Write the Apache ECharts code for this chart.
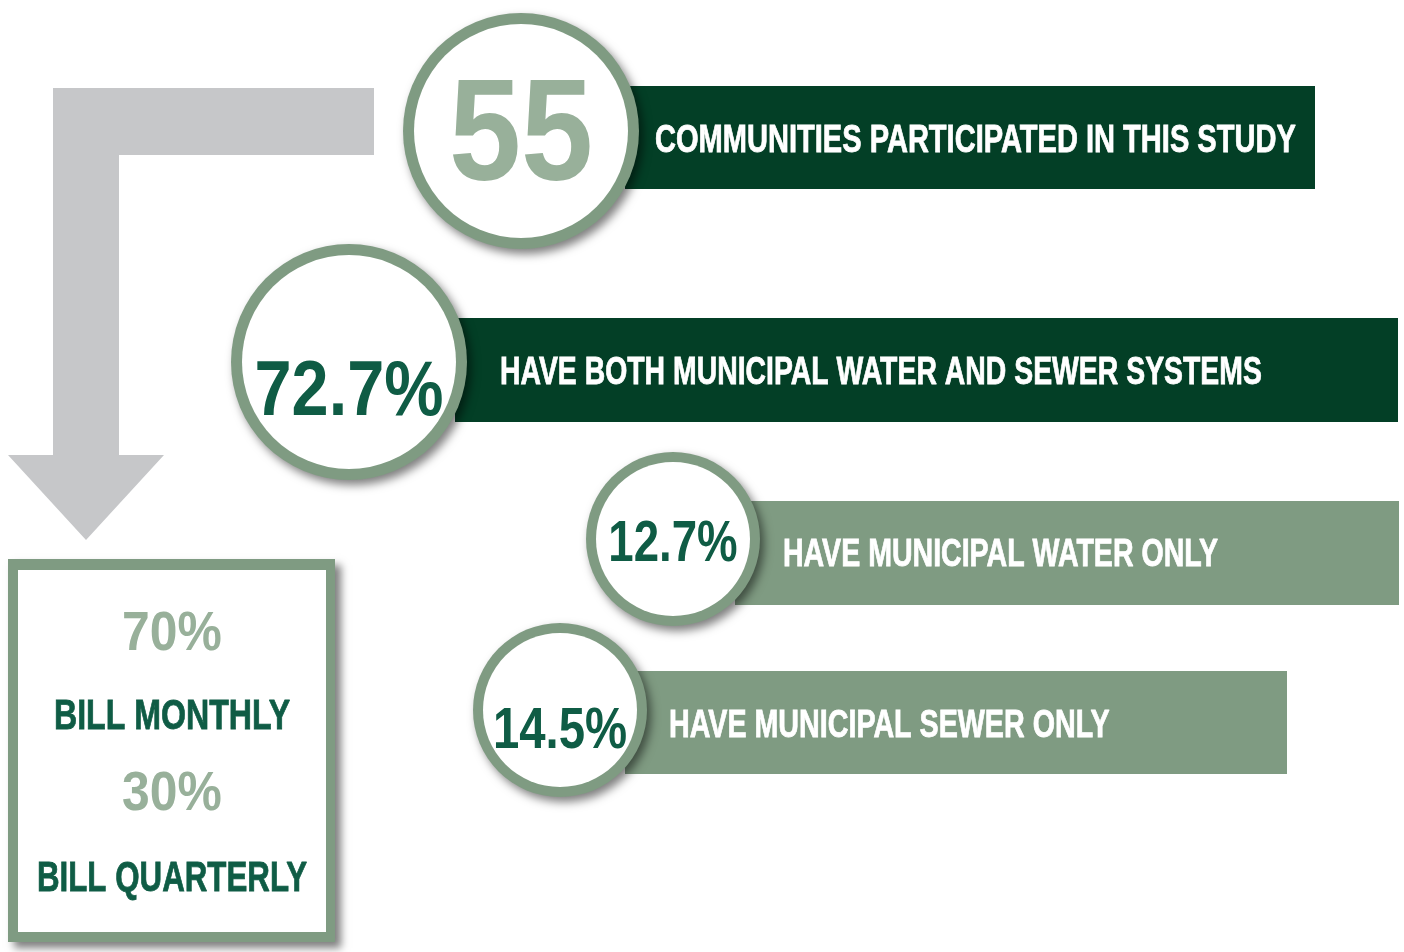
<!DOCTYPE html>
<html>
<head>
<meta charset="utf-8">
<script src="https://cdn.jsdelivr.net/npm/echarts@6/dist/echarts.min.js"></script>
<style>html,body{margin:0;padding:0;background:#fff;}#c{width:1404px;height:952px;}</style>
</head>
<body>
<div id="c"></div>
<script>
// ---- data ----
const statValues = ['55', '72.7%', '12.7%', '14.5%'];
const statLabels = [
  'COMMUNITIES PARTICIPATED IN THIS STUDY',
  'HAVE BOTH MUNICIPAL WATER AND SEWER SYSTEMS',
  'HAVE MUNICIPAL WATER ONLY',
  'HAVE MUNICIPAL SEWER ONLY'
];
const billingShares = ['70%', '30%'];
const billingLabels = ['BILL MONTHLY', 'BILL QUARTERLY'];

// ---- layout / styles ----
const DARK = '#033f26', SAGE = '#7f9b82', LIGHT = '#98b09a', TXT = '#0f5c45', GREY = '#c6c7c9';
const FONT = "'Liberation Sans',Arial,sans-serif";
const blocks = [
  {bar:[625, 86, 690, 103], barColor: DARK, cx:521, cy:131, r:118, bw:11, numColor: LIGHT, numSize:144, numScale:0.9, numY:140, labX:655, labY:141, labScale:0.745},
  {bar:[455, 318, 943, 104], barColor: DARK, cx:349, cy:362, r:118, bw:11, numColor: TXT, numSize:77, numScale:0.865, numY:394, labX:500, labY:373, labScale:0.728},
  {bar:[735, 501, 664, 104], barColor: SAGE, cx:673, cy:539, r:87, bw:10, numColor: TXT, numSize:57, numScale:0.8, numY:545, labX:783, labY:555, labScale:0.732},
  {bar:[625, 671, 662, 103], barColor: SAGE, cx:560, cy:710, r:87, bw:10, numColor: TXT, numSize:57, numScale:0.83, numY:732, labX:669, labY:726, labScale:0.735}
];

function txt(text, x, y, size, color, scaleX, align, stroke) {
  const style = {text:text, x:0, y:0, fill:color, fontSize:size, fontWeight:'bold', fontFamily:FONT,
    align:align, verticalAlign:'middle', textAlign:align, textVerticalAlign:'middle'};
  if (stroke) { style.stroke = color; style.lineWidth = stroke; }
  return {type:'text', z:5, x:x, y:y, scaleX:scaleX, scaleY:1, style:style};
}

const els = [];
// arrow
els.push({
  type:'polygon', z:1,
  shape:{points:[[53,88],[374,88],[374,155],[119,155],[119,455],[164,455],[86,540],[8,455],[53,455]]},
  style:{fill:GREY}
});
blocks.forEach((b, i) => {
  els.push({type:'rect', z:2, shape:{x:b.bar[0], y:b.bar[1], width:b.bar[2], height:b.bar[3]}, style:{fill:b.barColor}});
  els.push({type:'circle', z:3, shape:{cx:b.cx, cy:b.cy, r:b.r},
    style:{fill:SAGE, shadowBlur:10, shadowOffsetX:4, shadowOffsetY:5, shadowColor:'rgba(0,0,0,0.5)'}});
  els.push({type:'circle', z:4, shape:{cx:b.cx, cy:b.cy, r:b.r - b.bw}, style:{fill:'#fff'}});
  els.push(txt(statValues[i], b.cx, b.numY, b.numSize, b.numColor, b.numScale, 'center'));
  els.push(txt(statLabels[i], b.labX, b.labY, 39, '#fff', b.labScale, 'left', 0.8));
});
// billing box
els.push({type:'rect', z:2, shape:{x:8, y:559, width:327, height:383},
  style:{fill:SAGE, shadowBlur:8, shadowOffsetX:6, shadowOffsetY:6, shadowColor:'rgba(0,0,0,0.5)'}});
els.push({type:'rect', z:3, shape:{x:18, y:570, width:308, height:362}, style:{fill:'#fff'}});
const boxRows = [635, 717, 795, 879];
const boxLabScale = [0.747, 0.728];
billingShares.forEach((s, i) => {
  els.push(txt(s, 172, boxRows[i*2], 56, LIGHT, 0.89, 'center'));
  els.push(txt(billingLabels[i], 172, boxRows[i*2+1], 43, TXT, boxLabScale[i], 'center', 0.8));
});

const chart = echarts.init(document.getElementById('c'), null, {renderer:'canvas'});
chart.setOption({backgroundColor:'#fff', animation:false, graphic:{elements:els}});
</script>
</body>
</html>
